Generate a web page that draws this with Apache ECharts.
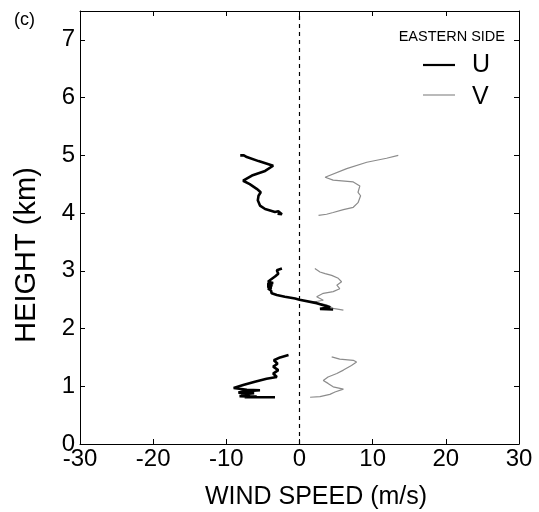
<!DOCTYPE html>
<html><head><meta charset="utf-8">
<script src="https://cdn.jsdelivr.net/npm/echarts@6/dist/echarts.min.js"></script>
<style>html,body{margin:0;padding:0;background:#fff}#c{width:539px;height:512px}</style>
</head><body><div id="c"></div>
<script>
// Tick values
const xTicks = [-30, -20, -10, 0, 10, 20, 30];
const yTicks = [0, 1, 2, 3, 4, 5, 6, 7];
const zeroLine = 0;
// U component segments: [wind speed m/s, height km]
const uHigh = [[-8.1,5.00],[-7.6,5.00],[-7.2,4.97],[-5.6,4.90],[-3.6,4.82],[-4.7,4.73],[-6.5,4.65],[-7.7,4.56],[-6.8,4.50],[-5.85,4.42],[-5.3,4.36],[-5.6,4.30],[-5.7,4.22],[-5.4,4.13],[-4.7,4.07],[-3.35,4.02],[-2.9,4.03],[-2.4,3.98],[-3.0,3.99]];
const uMid = [[-2.4,3.04],[-3.1,3.01],[-2.9,2.95],[-3.35,2.90],[-4.0,2.84],[-4.3,2.81],[-3.6,2.79],[-4.4,2.77],[-3.7,2.75],[-4.4,2.73],[-3.8,2.71],[-4.3,2.69],[-3.9,2.66],[-3.8,2.61],[-3.1,2.58],[-2.0,2.55],[-0.6,2.52],[0.0,2.50],[2.35,2.44],[4.2,2.37],[2.8,2.34],[4.6,2.33]];
const uLow = [[-1.5,1.54],[-2.65,1.50],[-3.5,1.45],[-3.0,1.39],[-3.6,1.34],[-2.9,1.28],[-3.6,1.22],[-3.1,1.16],[-4.5,1.13],[-6.1,1.08],[-7.7,1.02],[-9.0,0.97],[-7.2,0.94],[-5.4,0.93],[-7.7,0.91],[-8.35,0.89],[-6.2,0.88],[-8.0,0.86],[-6.75,0.85],[-8.2,0.83],[-5.85,0.82],[-7.5,0.81],[-3.35,0.81]];
// V component segments
const vHigh = [[13.5,5.00],[11.9,4.95],[9.2,4.88],[6.45,4.77],[3.5,4.62],[4.6,4.57],[7.35,4.54],[8.25,4.47],[8.0,4.36],[8.35,4.30],[8.0,4.18],[7.35,4.10],[6.0,4.06],[4.6,4.01],[3.7,3.98],[2.6,3.96]];
const vMid = [[2.1,3.04],[2.8,2.98],[3.5,2.95],[4.4,2.92],[5.3,2.87],[5.75,2.81],[5.1,2.75],[5.5,2.69],[4.6,2.64],[3.25,2.61],[2.35,2.55],[3.25,2.49],[1.9,2.46],[3.7,2.41],[4.6,2.35],[6.0,2.32]];
const vLow = [[4.4,1.51],[5.5,1.47],[7.35,1.45],[7.8,1.42],[7.1,1.36],[6.0,1.28],[5.1,1.22],[3.9,1.16],[3.25,1.10],[3.9,1.05],[4.6,0.99],[6.0,0.95],[4.85,0.90],[4.15,0.86],[2.8,0.82],[1.45,0.81]];

const FONT = '"Liberation Sans", Arial, Helvetica, sans-serif';
const join = (...segs) => segs.reduce((a, s, i) => i ? a.concat([[null, null]], s) : a.concat(s), []);

const chart = echarts.init(document.getElementById('c'), null, {renderer: 'canvas'});
const axisCommon = {
  axisLine: {show: true, onZero: false, lineStyle: {color: '#000', width: 1}},
  axisTick: {show: true, inside: true, length: 5, lineStyle: {color: '#000'}},
  splitLine: {show: false}
};
chart.setOption({
  animation: false,
  backgroundColor: '#fff',
  grid: {left: 80, right: 20, top: 11, bottom: 68, show: false},
  xAxis: [
    Object.assign({type: 'value', min: xTicks[0], max: xTicks[xTicks.length - 1], interval: 10, position: 'bottom',
      axisLabel: {color: '#000', fontSize: 24, fontFamily: FONT, margin: 3}}, axisCommon),
    Object.assign({type: 'value', min: xTicks[0], max: xTicks[xTicks.length - 1], interval: 10, position: 'top',
      axisLabel: {show: false}}, axisCommon)
  ],
  yAxis: [
    Object.assign({type: 'value', min: 0, max: 7.5, interval: 1, position: 'left',
      axisLabel: {color: '#000', fontSize: 24, fontFamily: FONT, margin: 5, showMaxLabel: false,
        formatter: v => (yTicks.indexOf(v) >= 0 ? String(v) : '')}}, axisCommon),
    Object.assign({type: 'value', min: 0, max: 7.5, interval: 1, position: 'right',
      axisLabel: {show: false}}, axisCommon)
  ],
  series: [
    {type: 'line', name: 'V', data: join(vLow, vMid, vHigh), showSymbol: false, connectNulls: false,
      lineStyle: {color: '#8c8c8c', width: 1.2}, z: 3,
      markLine: {silent: true, symbol: 'none', label: {show: false},
        lineStyle: {color: '#000', type: [4, 4], width: 1.2}, data: [{xAxis: zeroLine}]}},
    {type: 'line', name: 'U', data: join(uLow, uMid, uHigh), showSymbol: false, connectNulls: false,
      lineStyle: {color: '#000', width: 2.6}, z: 4}
  ],
  graphic: [
    {type: 'text', left: 14, top: 11, style: {text: '(c)', font: '18px ' + FONT, fill: '#000'}},
    {type: 'text', x: 27, y: 255, rotation: Math.PI / 2,
      style: {text: 'HEIGHT (km)', font: '29px ' + FONT, fill: '#000', textAlign: 'center', textVerticalAlign: 'middle'}},
    {type: 'text', x: 316, y: 497,
      style: {text: 'WIND SPEED (m/s)', font: '25px ' + FONT, fill: '#000', textAlign: 'center', textVerticalAlign: 'middle'}},
    {type: 'text', x: 505, y: 37,
      style: {text: 'EASTERN SIDE', font: '14.5px ' + FONT, fill: '#000', textAlign: 'right', textVerticalAlign: 'middle'}},
    {type: 'line', shape: {x1: 423, y1: 65, x2: 455, y2: 65}, style: {stroke: '#000', lineWidth: 2.2}},
    {type: 'text', x: 472, y: 65,
      style: {text: 'U', font: '25px ' + FONT, fill: '#000', textAlign: 'left', textVerticalAlign: 'middle'}},
    {type: 'line', shape: {x1: 423, y1: 95, x2: 455, y2: 95}, style: {stroke: '#8c8c8c', lineWidth: 1.2}},
    {type: 'text', x: 472, y: 97,
      style: {text: 'V', font: '25px ' + FONT, fill: '#000', textAlign: 'left', textVerticalAlign: 'middle'}}
  ]
});
</script></body></html>
